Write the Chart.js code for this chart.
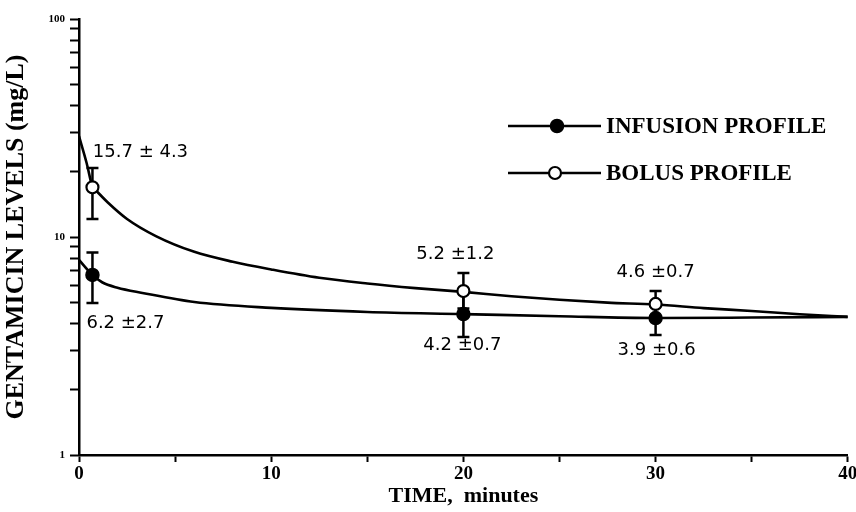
<!DOCTYPE html>
<html><head><meta charset="utf-8">
<script src="https://cdn.jsdelivr.net/npm/chart.js@4.4.0/dist/chart.umd.min.js"></script>
<style>html,body{margin:0;padding:0;background:#fff;}#wrap{width:856px;height:512px;position:relative;}</style>
</head><body><div id="wrap"><canvas id="c" width="856" height="512"></canvas></div>
<script>
// ---- data ----
const seriesNames = ['INFUSION PROFILE', 'BOLUS PROFILE'];
const sampleTimes = [0.7, 20, 30];
const infusionMean = [6.7, 4.43, 4.25];
const infusionLow = [4.98, 3.48, 3.55];
const infusionHigh = [8.5, 5.65, 4.97];
const bolusMean = [16.9, 5.65, 4.93];
const bolusLow = [12.1, 4.7, 4.3];
const bolusHigh = [20.7, 6.84, 5.65];
const infusionLabels = ['6.2 ±2.7', '4.2 ±0.7', '3.9 ±0.6'];
const bolusLabels = ['15.7 ± 4.3', '5.2 ±1.2', '4.6 ±0.7'];
const infusionCurveT = [0, 0.7, 1.2, 2, 3.3, 6, 10, 15, 20, 25, 30, 35, 40];
const infusionCurveY = [7.85, 6.7, 6.2, 5.85, 5.54, 5.03, 4.73, 4.53, 4.43, 4.33, 4.25, 4.27, 4.3];
const bolusCurveT = [0, 0.4, 0.7, 0.9, 1.5, 2.5, 4, 6, 8, 10, 12.5, 15, 17.5, 20, 22.5, 25, 27.5, 30, 32.5, 35, 37.5, 40];
const bolusCurveY = [29, 21.8, 17, 16.3, 14.4, 12.1, 10.1, 8.55, 7.7, 7.1, 6.5, 6.12, 5.83, 5.6, 5.35, 5.15, 5.0, 4.9, 4.72, 4.58, 4.42, 4.3];
const xTickLabels = [0, 10, 20, 30, 40];
const yTickLabels = [1, 10, 100];
const xTitle = 'TIME,  minutes';
const yTitle = 'GENTAMICIN LEVELS (mg/L)';

const toXY = (xs, ys) => xs.map((x, i) => ({ x: x, y: ys[i] }));
const serif = 'Liberation Serif, Times New Roman, serif';

const errorBars = {
  id: 'errorBars',
  beforeDatasetsDraw(chart) {
    const c = chart.ctx, xs = chart.scales.x, ys = chart.scales.y;
    c.save();
    c.strokeStyle = '#000'; c.lineWidth = 2.5; c.lineCap = 'butt';
    chart.data.datasets.forEach(ds => {
      if (!ds.errLow) return;
      ds.data.forEach((p, i) => {
        const px = xs.getPixelForValue(p.x);
        const lo = ys.getPixelForValue(ds.errLow[i]);
        const hi = ys.getPixelForValue(ds.errHigh[i]);
        c.beginPath();
        c.moveTo(px, lo); c.lineTo(px, hi);
        c.moveTo(px - 6, lo); c.lineTo(px + 6, lo);
        c.moveTo(px - 6, hi); c.lineTo(px + 6, hi);
        c.stroke();
      });
    });
    c.restore();
  }
};

const valueLabels = {
  id: 'valueLabels',
  afterDatasetsDraw(chart) {
    const c = chart.ctx, xs = chart.scales.x, ys = chart.scales.y;
    const offsets = {
      infusion: [[33, 48], [-1, 31], [1, 32]],
      bolus: [[48, -35], [-8, -37], [0, -32]]
    };
    c.save();
    c.fillStyle = '#000';
    c.font = '18px "DejaVu Sans", sans-serif';
    c.textAlign = 'center'; c.textBaseline = 'middle';
    chart.data.datasets.forEach(ds => {
      if (!ds.valueText) return;
      const off = offsets[ds.key];
      ds.data.forEach((p, i) => {
        const px = xs.getPixelForValue(p.x), py = ys.getPixelForValue(p.y);
        c.fillText(ds.valueText[i], px + off[i][0], py + off[i][1]);
      });
    });
    c.restore();
  }
};

const lineLegend = {
  id: 'lineLegend',
  afterDraw(chart) {
    const c = chart.ctx;
    const rows = [
      { ds: chart.data.datasets[0], y: 126, cx: 557 },
      { ds: chart.data.datasets[1], y: 173, cx: 555 }
    ];
    c.save();
    rows.forEach(r => {
      c.strokeStyle = '#000'; c.lineWidth = 2.5;
      c.beginPath(); c.moveTo(508, r.y); c.lineTo(601, r.y); c.stroke();
      c.beginPath(); c.arc(r.cx, r.y, r.ds.pointRadius, 0, Math.PI * 2);
      c.fillStyle = r.ds.pointBackgroundColor; c.fill();
      c.lineWidth = r.ds.pointBorderWidth; c.strokeStyle = '#000'; c.stroke();
      c.fillStyle = '#000';
      c.font = 'bold 23px ' + serif;
      c.textAlign = 'left'; c.textBaseline = 'middle';
      c.fillText(r.ds.label, 606, r.y + 1);
    });
    c.restore();
  }
};

new Chart(document.getElementById('c'), {
  type: 'scatter',
  data: {
    datasets: [
      { key: 'infusion', label: seriesNames[0], data: toXY(sampleTimes, infusionMean), showLine: false,
        pointRadius: 6.5, pointBackgroundColor: '#000', pointBorderColor: '#000', pointBorderWidth: 1.5,
        errLow: infusionLow, errHigh: infusionHigh, valueText: infusionLabels, order: 0 },
      { key: 'bolus', label: seriesNames[1], data: toXY(sampleTimes, bolusMean), showLine: false,
        pointRadius: 6, pointBackgroundColor: '#fff', pointBorderColor: '#000', pointBorderWidth: 2.2,
        errLow: bolusLow, errHigh: bolusHigh, valueText: bolusLabels, order: 0 },
      { label: 'infusion curve', data: toXY(infusionCurveT, infusionCurveY), showLine: true,
        borderColor: '#000', borderWidth: 2.6, pointRadius: 0, cubicInterpolationMode: 'monotone', order: 1 },
      { label: 'bolus curve', data: toXY(bolusCurveT, bolusCurveY), showLine: true,
        borderColor: '#000', borderWidth: 2.6, pointRadius: 0, cubicInterpolationMode: 'monotone', order: 1 }
    ]
  },
  options: {
    responsive: false, animation: false, devicePixelRatio: 1,
    layout: { padding: { top: 19, right: 3, left: 0, bottom: 0 } },
    plugins: { legend: { display: false }, tooltip: { enabled: false } },
    scales: {
      x: {
        type: 'linear', min: 0, max: 40,
        ticks: { stepSize: 5, autoSkip: false, maxRotation: 0, color: '#000', padding: 1,
          font: { family: serif, weight: 'bold', size: 19 },
          callback: v => xTickLabels.includes(v) ? String(v) : '' },
        grid: { drawOnChartArea: false, drawTicks: true, tickLength: 7, tickColor: '#000',
          tickWidth: 2 },
        border: { display: true, color: '#000', width: 2.5 },
        title: { display: true, text: xTitle, color: '#000', padding: { top: 0, bottom: 2 },
          font: { family: serif, weight: 'bold', size: 22 } },
        afterFit: s => { s.height = 57; s.paddingLeft = 0; s.paddingRight = 0; }
      },
      y: {
        type: 'logarithmic', min: 1, max: 100,
        afterBuildTicks: s => {
          const t = [];
          for (let d = 1; d < 100; d *= 10) for (let k = 1; k < 10; k++) t.push({ value: k * d });
          t.push({ value: 100 });
          s.ticks = t;
        },
        ticks: { autoSkip: false, color: '#000', padding: 5,
          font: { family: serif, weight: 'bold', size: 11 },
          callback: v => yTickLabels.includes(v) ? String(v) : '' },
        grid: { drawOnChartArea: false, drawTicks: true, tickLength: 9, tickColor: '#000', tickWidth: 2 },
        border: { display: true, color: '#000', width: 2.5 },
        title: { display: true, text: yTitle, color: '#000', padding: { top: 1, bottom: 0 },
          font: { family: serif, weight: 'bold', size: 26 } },
        afterFit: s => { s.width = 79; s.paddingTop = 0; s.paddingBottom = 0; }
      }
    }
  },
  plugins: [errorBars, valueLabels, lineLegend]
});
</script>
</body></html>
